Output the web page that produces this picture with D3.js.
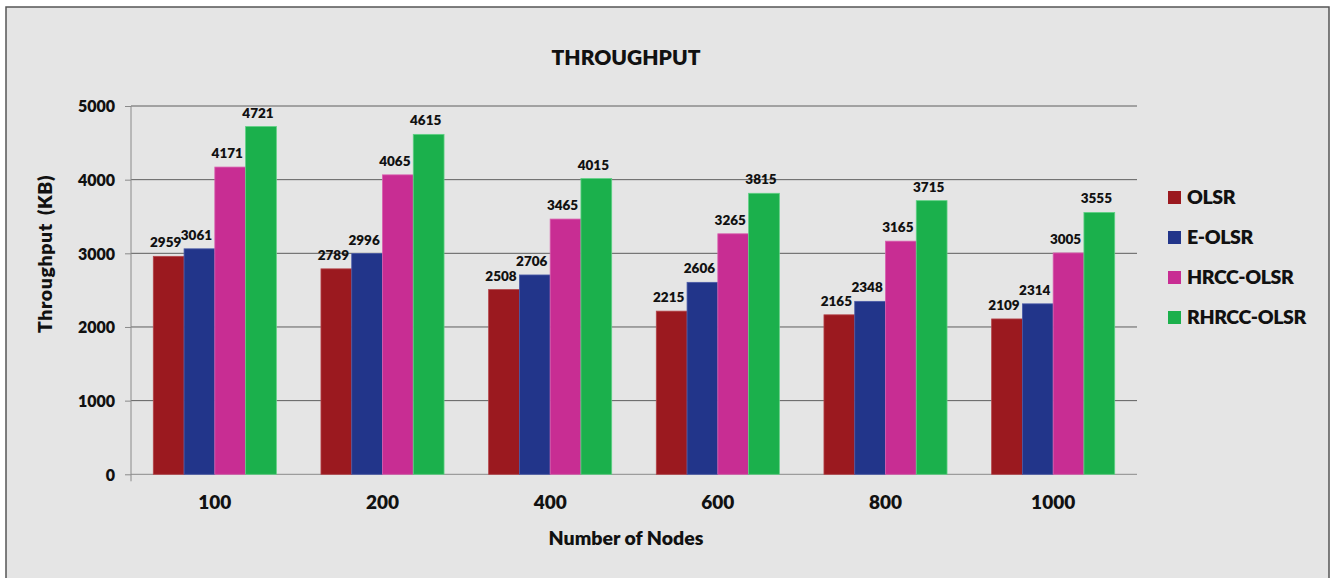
<!DOCTYPE html>
<html>
<head>
<meta charset="utf-8">
<script src="https://cdn.jsdelivr.net/npm/d3@7/dist/d3.min.js"></script>
<style>
  html, body { margin: 0; padding: 0; background: #ffffff; }
  svg { display: block; }
  text { font-family: Lato, "Open Sans", "DejaVu Sans", sans-serif; font-weight: 800; fill: #111; }
</style>
</head>
<body>
<svg id="chart" width="1332" height="578"></svg>
<script>
// Throughput per node count for each routing protocol
const nodes = ["100", "200", "400", "600", "800", "1000"];
const seriesNames = ["OLSR", "E-OLSR", "HRCC-OLSR", "RHRCC-OLSR"];
const olsr = [2959, 2789, 2508, 2215, 2165, 2109];
const eOlsr = [3061, 2996, 2706, 2606, 2348, 2314];
const hrccOlsr = [4171, 4065, 3465, 3265, 3165, 3005];
const rhrccOlsr = [4721, 4615, 4015, 3815, 3715, 3555];
const yTicks = [0, 1000, 2000, 3000, 4000, 5000];

const seriesValues = [olsr, eOlsr, hrccOlsr, rhrccOlsr];
const colors = ["#9b191f", "#22358a", "#c82d93", "#1bb04c"];
const strokes = ["#b54449", "#4a5aa8", "#d95fae", "#5fd184"];

const svg = d3.select("#chart");

// chart panel
svg.append("rect")
  .attr("x", 6).attr("y", 7)
  .attr("width", 1323).attr("height", 590)
  .attr("fill", "#e5e5e5")
  .attr("stroke", "#555").attr("stroke-width", 1.5);

const plotLeft = 131, plotRight = 1137, plotTop = 106, plotBottom = 474.3;

const x0 = d3.scaleBand().domain(nodes).range([plotLeft, plotRight]).paddingInner(0).paddingOuter(0);
const x1 = d3.scaleBand().domain(seriesNames)
  .range([22.3, x0.bandwidth() - 22.3]).padding(0);
const y = d3.scaleLinear().domain([0, 5000]).range([plotBottom, plotTop]);

// horizontal gridlines
svg.append("g").selectAll("line").data(yTicks.filter(d => d > 0)).join("line")
  .attr("x1", plotLeft).attr("x2", plotRight)
  .attr("y1", d => y(d)).attr("y2", d => y(d))
  .attr("stroke", "#5e5e5e").attr("stroke-width", 1);

// y axis
const yAxis = svg.append("g")
  .attr("transform", `translate(${plotLeft},0)`)
  .call(d3.axisLeft(y).tickValues(yTicks).tickSize(6).tickPadding(10).tickFormat(d3.format("d")));
yAxis.select(".domain").attr("stroke", "#8a8a8a").attr("d", `M0,${plotTop}V${plotBottom + 7}`);
yAxis.selectAll(".tick line").attr("stroke", "#8a8a8a");
yAxis.selectAll(".tick text").attr("font-size", 16).attr("fill", "#111")
  .attr("font-family", "Lato, sans-serif").attr("font-weight", 800).attr("dy", "0.36em");

// x axis
const xAxis = svg.append("g")
  .attr("transform", `translate(0,${plotBottom})`)
  .call(d3.axisBottom(x0).tickSize(0).tickPadding(21));
xAxis.select(".domain").attr("stroke", "#8a8a8a").attr("d", `M${plotLeft},0H${plotRight}`);
xAxis.selectAll(".tick text").attr("font-size", 19).attr("fill", "#111")
  .attr("font-family", "Lato, sans-serif").attr("font-weight", 800);

// bars
const groups = svg.append("g").selectAll("g").data(nodes).join("g")
  .attr("transform", d => `translate(${x0(d)},0)`);

groups.selectAll("rect")
  .data((d, i) => seriesNames.map((s, k) => ({ s, k, v: seriesValues[k][i] })))
  .join("rect")
  .attr("x", d => x1(d.s))
  .attr("y", d => y(d.v))
  .attr("width", x1.bandwidth())
  .attr("height", d => plotBottom - y(d.v))
  .attr("fill", d => colors[d.k])
  .attr("stroke", d => strokes[d.k])
  .attr("stroke-width", 0.8);

// value labels
groups.selectAll("text.val")
  .data((d, i) => seriesNames.map((s, k) => ({ s, k, v: seriesValues[k][i] })))
  .join("text")
  .attr("class", "val")
  .attr("x", d => x1(d.s) + x1.bandwidth() / 2 - 3)
  .attr("y", d => y(d.v) - 9)
  .attr("text-anchor", "middle")
  .attr("font-size", 13.5)
  .text(d => d.v);

// title
svg.append("text")
  .attr("x", 626).attr("y", 64.5)
  .attr("text-anchor", "middle")
  .attr("font-size", 21)
  .text("THROUGHPUT");

// axis titles
svg.append("text")
  .attr("x", 626).attr("y", 545)
  .attr("text-anchor", "middle")
  .attr("font-size", 19.5)
  .text("Number of Nodes");

svg.append("text")
  .attr("transform", "translate(52,254) rotate(-90)")
  .attr("text-anchor", "middle")
  .attr("font-size", 19.5)
  .attr("letter-spacing", 0.6)
  .attr("word-spacing", 3)
  .text("Throughput (KB)");

// legend
const legend = svg.append("g").selectAll("g").data(seriesNames).join("g")
  .attr("transform", (d, i) => `translate(1168,${191 + i * 40})`);
legend.append("rect")
  .attr("width", 13).attr("height", 13)
  .attr("fill", (d, i) => colors[i]);
legend.append("text")
  .attr("x", 19).attr("y", 13.3)
  .attr("font-size", 19.5)
  .attr("letter-spacing", -0.4)
  .text(d => d);
</script>
</body>
</html>
